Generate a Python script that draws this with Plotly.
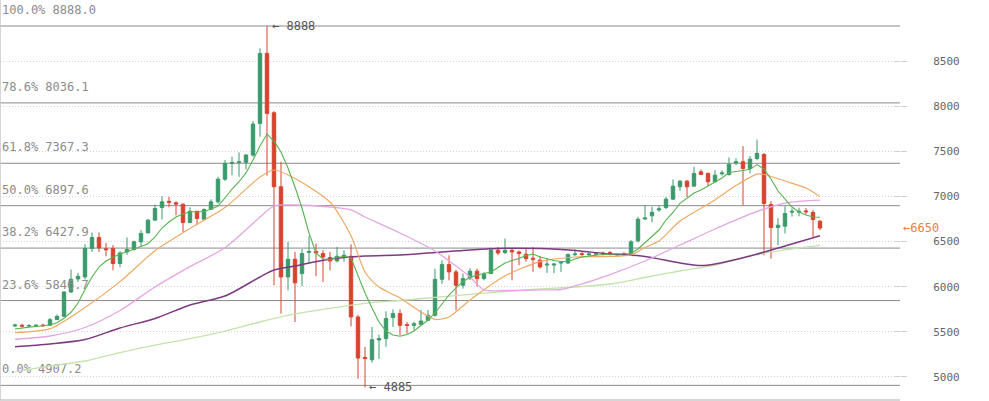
import plotly.graph_objects as go

# ---- candle data (index positions) ----
opens = [5565, 5572, 5565, 5566, 5574, 5572, 5636, 5672, 5942, 6086,
         6108, 6423, 6545, 6420, 6423, 6257, 6385, 6412, 6497, 6596,
         6737, 6877, 6945, 6930, 6914, 6711, 6836, 6748, 6858, 6940,
         7191, 7366, 7377, 7377, 7458, 7809, 8585, 7927, 7107, 6108,
         6304, 6145, 6380, 6390, 6367, 6323, 6286, 6330, 6337, 5665,
         5215, 5191, 5410, 5425, 5658, 5702, 5580, 5572, 5583, 5628,
         5684, 6082, 6245, 6164, 6016, 6097, 6172, 6090, 6146, 6404,
         6378, 6404, 6385, 6360, 6315, 6293, 6240, 6240, 6262, 6263,
         6355, 6365, 6355, 6360, 6370, 6378, 6352, 6365, 6356, 6508,
         6750, 6785, 6850, 6878, 6970, 7107, 7169, 7114, 7273, 7255,
         7163, 7250, 7244, 7370, 7384, 7310, 7421, 7465, 6911, 6656,
         6670, 6825, 6825, 6840, 6822, 6725]
highs = [5590, 5590, 5585, 5585, 5590, 5653, 5690, 5945, 6190, 6153,
         6470, 6600, 6600, 6485, 6460, 6393, 6545, 6510, 6626, 6750,
         6911, 7003, 6995, 6945, 6922, 6879, 6840, 6868, 6968, 7217,
         7402, 7440, 7488, 7470, 7835, 8641, 8888, 7945, 7384, 6497,
         6385, 6418, 6560, 6478, 6404, 6385, 6441, 6404, 6470, 5690,
         5333, 5554, 5470, 5728, 5750, 5750, 5610, 5612, 5742, 5742,
         6200, 6293, 6348, 6190, 6146, 6204, 6200, 6160, 6434, 6441,
         6534, 6420, 6400, 6425, 6441, 6340, 6315, 6262, 6280, 6370,
         6414, 6385, 6380, 6385, 6390, 6395, 6370, 6385, 6517, 6774,
         6903, 6886, 6892, 6995, 7188, 7182, 7182, 7328, 7300, 7267,
         7291, 7291, 7432, 7422, 7557, 7448, 7630, 7480, 6948, 6760,
         6892, 6868, 6875, 6870, 6850, 6740]
lows = [5555, 5550, 5555, 5555, 5558, 5565, 5630, 5665, 5930, 6053,
        6080, 6385, 6385, 6337, 6182, 6215, 6351, 6400, 6443, 6592,
        6739, 6744, 6880, 6792, 6607, 6702, 6681, 6739, 6880, 6920,
        7170, 7236, 7217, 7299, 7440, 7661, 7230, 6016, 5702, 5960,
        5609, 6008, 6257, 6115, 6053, 6182, 6270, 6277, 5561, 4981,
        4885, 5159, 5200, 5333, 5554, 5461, 5480, 5520, 5576, 5620,
        5668, 6034, 6071, 5739, 5979, 6074, 6004, 6070, 6140, 6350,
        6360, 6071, 6237, 6277, 6164, 6200, 6153, 6150, 6164, 6250,
        6340, 6340, 6340, 6345, 6345, 6350, 6345, 6345, 6345, 6490,
        6740, 6713, 6830, 6860, 6960, 7060, 6995, 7116, 7240, 7114,
        7156, 7230, 7230, 7348, 6903, 7256, 7400, 6348, 6311, 6459,
        6590, 6776, 6780, 6800, 6552, 6626]
closes = [5575, 5563, 5570, 5572, 5568, 5635, 5672, 5942, 6082, 6115,
          6423, 6545, 6430, 6410, 6257, 6374, 6412, 6497, 6590, 6737,
          6866, 6940, 6935, 6915, 6711, 6836, 6756, 6855, 6940, 7191,
          7366, 7375, 7383, 7458, 7802, 8584, 7920, 7107, 6108, 6304,
          6043, 6367, 6390, 6375, 6330, 6286, 6337, 6348, 5665, 5210,
          5205, 5413, 5425, 5647, 5702, 5572, 5570, 5590, 5620, 5684,
          6082, 6245, 6164, 6016, 6090, 6172, 6090, 6138, 6404, 6374,
          6404, 6385, 6367, 6311, 6305, 6219, 6250, 6250, 6270, 6356,
          6362, 6358, 6362, 6368, 6360, 6356, 6358, 6356, 6497, 6748,
          6760, 6825, 6862, 6970, 7114, 7169, 7107, 7255, 7244, 7163,
          7236, 7260, 7355, 7384, 7310, 7413, 7477, 6922, 6656, 6681,
          6811, 6835, 6835, 6830, 6744, 6650]
candle_idx = list(range(len(closes)))

# ---- moving averages ----
ma_fast = [5532, 5545, 5552, 5560, 5568, 5576, 5600, 5650, 5717, 5820,
           5970, 6108, 6218, 6285, 6326, 6362, 6388, 6418, 6440, 6476,
           6551, 6650, 6717, 6772, 6805, 6831, 6831, 6831, 6861, 6894,
           6983, 7082, 7163, 7260, 7404, 7559, 7691, 7614, 7492, 7315,
           7104, 6872, 6595, 6373, 6307, 6301, 6324, 6335, 6318, 6130,
           5930, 5764, 5609, 5509, 5465, 5451, 5471, 5509, 5565, 5631,
           5709, 5808, 5908, 5986, 6058, 6102, 6130, 6146, 6163, 6213,
           6263, 6290, 6312, 6346, 6362, 6329, 6307, 6290, 6279, 6279,
           6307, 6329, 6340, 6351, 6357, 6359, 6362, 6362, 6368, 6418,
           6490, 6562, 6628, 6739, 6822, 6924, 6983, 7038, 7071, 7116,
           7154, 7204, 7265, 7280, 7287, 7300, 7353, 7304, 7193, 7060,
           6966, 6883, 6828, 6794, 6772, 6769]

ma_mid_idx = [0, 5, 10, 15, 20, 25, 30, 35, 37, 40, 45, 48, 50, 52, 55, 58,
              60, 62, 65, 70, 75, 80, 85, 88, 90, 92, 95, 100, 103, 106,
              107, 110, 113, 115]
ma_mid = [5491, 5535, 5770, 6056, 6399, 6646, 6877, 7215, 7293, 7199, 6938,
          6565, 6163, 5997, 5875, 5720, 5637, 5665, 5853, 6119, 6277, 6329,
          6335, 6351, 6434, 6506, 6728, 6961, 7121, 7248, 7243, 7171, 7093,
          6997]

ma_slow_idx = [0, 5, 10, 15, 20, 25, 30, 35, 37, 40, 45, 48, 50, 55, 60, 63,
               65, 67, 70, 75, 78, 80, 85, 90, 95, 100, 105, 110, 115]
ma_slow = [5418, 5454, 5548, 5737, 5997, 6222, 6432, 6772, 6894, 6905, 6883,
           6850, 6772, 6595, 6396, 6229, 6108, 5964, 5958, 5964, 5969, 6008,
           6135, 6285, 6462, 6639, 6805, 6927, 6960]

ma_long_idx = [0, 5, 10, 15, 20, 25, 30, 35, 37, 40, 45, 50, 55, 60, 65, 70,
               75, 80, 85, 90, 95, 98, 100, 105, 110, 115]
ma_long = [5336, 5366, 5415, 5543, 5648, 5797, 5897, 6108, 6185, 6229, 6307,
           6340, 6351, 6379, 6407, 6425, 6423, 6401, 6362, 6335, 6263, 6235,
           6252, 6340, 6451, 6565]

ma_vlong_idx = [0, 5, 10, 15, 20, 25, 30, 35, 40, 45, 50, 55, 60, 65, 70, 75,
                80, 85, 90, 95, 100, 105, 110, 115]
ma_vlong = [5059, 5122, 5177, 5271, 5354, 5426, 5509, 5609, 5698, 5761, 5816,
            5847, 5881, 5914, 5947, 5975, 5997, 6030, 6102, 6174, 6240, 6340,
            6407, 6457]

# ---- Fibonacci retracement levels ----
fib_ratios = ["0.0%", "23.6%", "38.2%", "50.0%", "61.8%", "78.6%", "100.0%"]
fib_levels = [4907.2, 5846.7, 6427.9, 6897.6, 7367.3, 8036.1, 8888.0]

y_ticks = [5000, 5500, 6000, 6500, 7000, 7500, 8000, 8500]
peak_idx, peak_val = 36, 8888
trough_idx, trough_val = 50, 4885
last_price = 6650

GREEN = "#3b9a6b"
RED = "#d8432e"
MONO = "DejaVu Sans Mono"
Y_RANGE = [4745, 9176]
X_RANGE = [-15 / 7, 885 / 7]
PLOT_H = 400
PX_TO_VAL = (Y_RANGE[1] - Y_RANGE[0]) / PLOT_H   # value units per pixel
PX_TO_IDX = 1 / 7                               # candle units per pixel

fig = go.Figure()

# Fibonacci labels drawn as text traces beneath the candles
fig.add_trace(go.Scatter(
    x=[X_RANGE[0] + 2 * PX_TO_IDX] * len(fib_levels),
    y=[lv + 15 * PX_TO_VAL for lv in fib_levels], mode="text",
    text=[f"{r} {lv:.1f}" for r, lv in zip(fib_ratios, fib_levels)],
    textposition="middle right",
    textfont=dict(family=MONO, size=12, color="#8c8c8c"),
    hoverinfo="skip", cliponaxis=False))

# MA lines
fig.add_trace(go.Scatter(x=ma_vlong_idx, y=ma_vlong, mode="lines",
                         line=dict(color="#c5e3ad", width=1.3, shape="spline", smoothing=0.8),
                         hoverinfo="skip"))
fig.add_trace(go.Scatter(x=ma_long_idx, y=ma_long, mode="lines",
                         line=dict(color="#7d3a80", width=1.5, shape="spline", smoothing=0.8),
                         hoverinfo="skip"))
fig.add_trace(go.Scatter(x=ma_slow_idx, y=ma_slow, mode="lines",
                         line=dict(color="#e3a6e3", width=1.3, shape="spline", smoothing=0.8),
                         hoverinfo="skip"))
fig.add_trace(go.Scatter(x=ma_mid_idx, y=ma_mid, mode="lines",
                         line=dict(color="#eea965", width=1.2, shape="spline", smoothing=0.7),
                         hoverinfo="skip"))
fig.add_trace(go.Scatter(x=candle_idx, y=ma_fast, mode="lines",
                         line=dict(color="#55b34f", width=1.1), hoverinfo="skip"))

fig.add_trace(go.Candlestick(
    x=candle_idx, open=opens, high=highs, low=lows, close=closes,
    increasing=dict(line=dict(color=GREEN, width=1), fillcolor=GREEN),
    decreasing=dict(line=dict(color=RED, width=1), fillcolor=RED),
    whiskerwidth=0, hoverinfo="skip"))

# Fibonacci lines
for lv in fib_levels:
    fig.add_shape(type="line", xref="paper", x0=0, x1=1, yref="y", y0=lv, y1=lv,
                  line=dict(color="#8a8a8a", width=1), layer="below")

# price annotations
fig.add_annotation(x=peak_idx, y=peak_val, xanchor="left", yanchor="middle",
                   xshift=3, text=f"\u2190 {peak_val}", showarrow=False,
                   font=dict(family=MONO, size=12, color="#555555"))
fig.add_annotation(x=trough_idx, y=trough_val, xanchor="left", yanchor="middle",
                   xshift=2, text=f"\u2190 {trough_val}", showarrow=False,
                   font=dict(family=MONO, size=12, color="#555555"))
fig.add_annotation(xref="paper", x=1, xanchor="left", xshift=1,
                   yref="y", y=last_price, yanchor="middle",
                   text=f"\u2190{last_price}", showarrow=False,
                   font=dict(family=MONO, size=12, color="#ef7d3a"))

# plot borders (left and bottom)
fig.add_shape(type="line", xref="paper", yref="paper", x0=0, x1=0, y0=0, y1=1,
              line=dict(color="#c8c8c8", width=1.5))
fig.add_shape(type="line", xref="paper", yref="paper", x0=0, x1=1, y0=0, y1=0,
              line=dict(color="#c8c8c8", width=1.5))

W, H = 989, 401
plot_right = 900
fig.update_layout(
    width=W, height=H,
    margin=dict(l=0, r=W - plot_right, t=0, b=H - PLOT_H),
    paper_bgcolor="white", plot_bgcolor="white",
    showlegend=False,
    xaxis=dict(range=X_RANGE, visible=False,
               rangeslider=dict(visible=False), fixedrange=True),
    yaxis=dict(range=Y_RANGE, side="right", tickvals=y_ticks,
               ticktext=[str(v) for v in y_ticks],
               showgrid=True, gridcolor="#d4d4d4", griddash="1px,2px", gridwidth=1,
               zeroline=False, showline=False,
               ticks="outside", ticklen=6, tickcolor="#d0d0d0",
               ticklabelstandoff=24,
               tickfont=dict(family=MONO, size=11, color="#666666")),
    yaxis2=dict(range=Y_RANGE, overlaying="y", anchor="free", position=1,
                side="right", tickvals=y_ticks, showticklabels=False,
                showgrid=False, zeroline=False, ticks="inside", ticklen=6,
                tickcolor="#d0d0d0"),
)
# invisible trace on yaxis2 so its tick marks are drawn
fig.add_trace(go.Scatter(x=[0], y=[5000], yaxis="y2", mode="markers",
                         marker=dict(opacity=0), hoverinfo="skip"))

fig.write_html("out.html")
